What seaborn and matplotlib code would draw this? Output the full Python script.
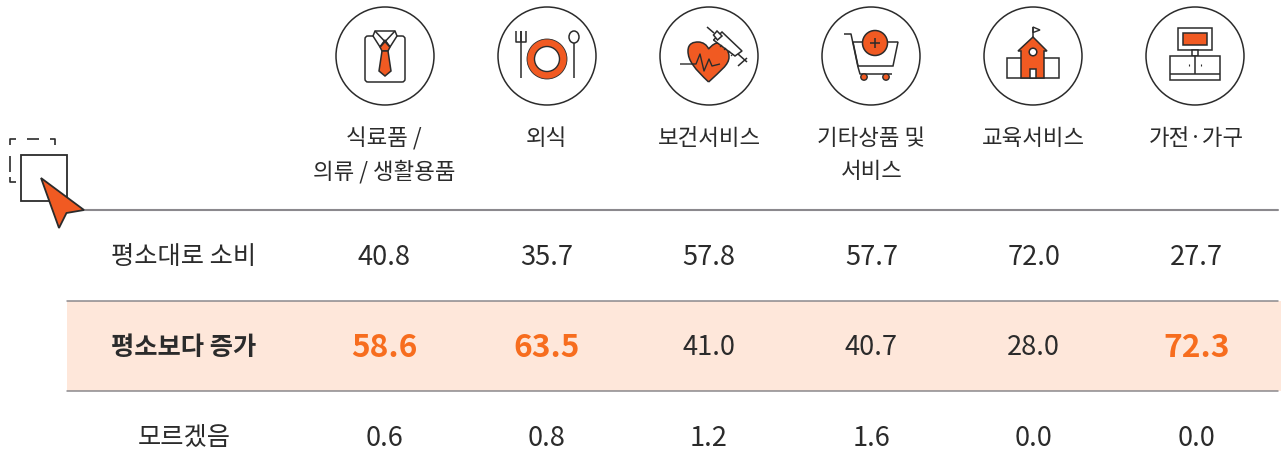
import numpy as np
import matplotlib
matplotlib.use("Agg")
import matplotlib.pyplot as plt
from matplotlib.colors import ListedColormap
from matplotlib.patches import Circle, Ellipse, Polygon, Rectangle, FancyBboxPatch, PathPatch
from matplotlib.path import Path
import seaborn as sns

categories = ["식료품 /\n의류 / 생활용품", "외식", "보건서비스", "기타상품 및\n서비스", "교육서비스", "가전·가구"]
row_labels = ["평소대로 소비", "평소보다 증가", "모르겠음"]
same_as_usual = [40.8, 35.7, 57.8, 57.7, 72.0, 27.7]
more_than_usual = [58.6, 63.5, 41.0, 40.7, 28.0, 72.3]
dont_know = [0.6, 0.8, 1.2, 1.6, 0.0, 0.0]

DARK = "#2b2b2b"
ORANGE = "#f15a22"
TEXT_ORANGE = "#f76d1e"
BAND = "#fee7da"
RULE = "#8b898d"
FONT = ["Noto Sans CJK KR", "DejaVu Sans"]

W, H = 1281, 452
sns.set_theme(style="white")
plt.rcParams["font.family"] = FONT

fig = plt.figure(figsize=(W / 100, H / 100), dpi=100, facecolor="white")

# table body: 6 columns, third row runs off the bottom of the picture
col_w, row_h = 162.4, 90.6
top, left = 211, 303
ax = fig.add_axes([left / W, 1 - (top + 3 * row_h) / H, 6 * col_w / W, 3 * row_h / H])
values = np.array([same_as_usual, more_than_usual, dont_know])
band = np.array([[0] * 6, [1] * 6, [0] * 6])
sns.heatmap(band, ax=ax, cmap=ListedColormap(["white", BAND]), cbar=False, annot=values, fmt=".1f",
            annot_kws={"fontsize": 19.6, "color": DARK, "fontweight": "light"},
            xticklabels=False, yticklabels=False)
for txt, val, row in zip(ax.texts, values.flatten(), np.repeat([0, 1, 2], 6)):
    txt.set_y(txt.get_position()[1] + 1 / row_h)  # 1px lower than cell centre
    # only the above-50 values in the highlighted row stand out
    if row == 1 and val > 50:
        txt.set_color(TEXT_ORANGE)
        txt.set_fontweight("bold")
        txt.set_fontsize(22.8)

# overlay in pixel coordinates for rules, labels and icons
ov = fig.add_axes([0, 0, 1, 1], facecolor="none")
ov.set_xlim(0, W)
ov.set_ylim(H, 0)
ov.axis("off")

ov.add_patch(Rectangle((67, top + row_h), left - 67, row_h, fc=BAND, ec="none"))
ov.add_patch(Rectangle((left + 6 * col_w, top + row_h), 10, row_h, fc=BAND, ec="none"))
ov.plot([67, 1278], [211, 211], color=RULE, lw=1.5)
ov.plot([67, 1278], [301.5, 301.5], color=RULE, lw=1.1)
ov.plot([67, 1278], [392, 392], color=RULE, lw=1.1)

label_y = [top + row_h * (i + 0.5) + 1 for i in range(3)]
for i, (lab, y) in enumerate(zip(row_labels, label_y)):
    ov.text(184, y, lab, ha="center", va="center", fontsize=18.2, color=DARK,
            fontweight="bold" if i == 1 else "light")

centers = [left + col_w * (i + 0.5) for i in range(6)]
for cat, x in zip(categories, centers):
    for j, part in enumerate(cat.split("\n")):
        ov.text(x, 139 + 33 * j, part, ha="center", va="center", fontsize=16.1, color=DARK, fontweight="light")


def poly(pts, fc="none", lw=1.1, closed=True, z=5):
    ov.add_patch(Polygon(pts, closed=closed, fc=fc, ec=DARK, lw=lw, joinstyle="miter", zorder=z))


def line(pts, lw=1.1, z=6):
    xs, ys = zip(*pts)
    ov.plot(xs, ys, color=DARK, lw=lw, zorder=z, solid_capstyle="butt")


for x in [385, 547, 709, 871, 1033, 1195]:
    ov.add_patch(Circle((x, 57), 49, fc="white", ec=DARK, lw=1.1, zorder=4))

# shirt and tie
ov.add_patch(FancyBboxPatch((365, 37), 40, 46, boxstyle="round,pad=0,rounding_size=3", fc="white", ec=DARK, lw=1.1, zorder=5))
poly([(375, 32), (395, 32), (397, 37), (390, 48), (385, 41), (380, 48), (373, 37)], fc="white")
line([(375, 32), (390, 48)])
line([(395, 32), (380, 48)])
poly([(385, 42), (390, 48), (388, 52), (382, 52), (380, 48)], fc=ORANGE)
poly([(382, 52), (388, 52), (391, 72), (385, 77), (379, 72)], fc=ORANGE)

# plate, fork, spoon
ov.add_patch(Ellipse((547, 60), 40, 40, fc=ORANGE, ec=DARK, lw=0.6, zorder=5))
ov.add_patch(Ellipse((547, 60), 25, 25, fc="white", ec=DARK, lw=1, zorder=6))
line([(521, 32), (521, 79)])
line([(516, 32), (516, 43), (526, 43), (526, 32)])
line([(521, 32), (521, 43)])
ov.add_patch(Ellipse((574, 38), 10, 12, fc="white", ec=DARK, lw=1.1, zorder=5))
line([(574, 44), (574, 79)])

# heart and syringe
heart = Path([(708.6, 83), (695, 70), (688, 62), (688, 52), (688, 44), (694, 43), (698, 43),
              (703, 43), (707, 46), (708.6, 50), (712, 46), (716, 43), (720, 44),
              (726, 46), (729, 52), (729, 58), (729, 66), (720, 72), (708.6, 83)],
             [Path.MOVETO] + [Path.CURVE4] * 18)
ov.add_patch(PathPatch(heart, fc=ORANGE, ec=DARK, lw=1.1, zorder=5))
line([(680, 65), (696, 65), (700, 55), (704, 72), (709, 60), (712, 67), (720, 65)], lw=1)
poly([(713.5, 41), (722, 33), (742, 52), (735, 57)], fc="white", z=7)
for t in [(720, 48), (724, 51), (728, 54), (731, 57)]:
    line([t, (t[0] + 2, t[1] - 2)], lw=0.8, z=8)
poly([(713.5, 36), (717, 32), (722, 37), (717.5, 41)], fc="white", z=7)
line([(714, 34), (707, 28)])
line([(738, 55), (747, 63)])
line([(738, 67), (747, 59)])

# cart
line([(844, 35), (851, 35), (858, 68), (860, 75), (892, 75)])
poly([(853, 43), (898, 43), (893, 67), (858, 67)])
ov.add_patch(Circle((875, 44), 12.5, fc=ORANGE, ec=DARK, lw=1.1, zorder=6))
line([(870, 44), (880, 44)], z=7)
line([(875, 39), (875, 49)], z=7)
for wx in [864, 886]:
    ov.add_patch(Circle((wx, 78), 3.2, fc=ORANGE, ec=DARK, lw=1, zorder=6))

# school
poly([(1006.5, 59), (1059, 59), (1059, 79), (1006.5, 79)], fc="white")
poly([(1033, 38), (1047, 52), (1044, 52), (1044, 79), (1021, 79), (1021, 52), (1018, 52)], fc=ORANGE, z=6)
ov.add_patch(Circle((1033, 53), 3.8, fc="white", ec=DARK, lw=1.1, zorder=7))
poly([(1030, 70), (1036, 70), (1036, 79), (1030, 79)], fc="white", z=7)
line([(1033, 38), (1033, 28)])
poly([(1033, 28), (1040, 31), (1033, 33.5)], fc="white", lw=1)

# tv and cabinet
poly([(1178, 29), (1212, 29), (1212, 51), (1178, 51)], fc="white")
poly([(1183, 34), (1207, 34), (1207, 46), (1183, 46)], fc=ORANGE)
poly([(1192, 51), (1198, 51), (1198, 57), (1192, 57)], fc="white")
poly([(1170, 57), (1220, 57), (1220, 81), (1170, 81)], fc="white")
line([(1170, 75), (1220, 75)])
line([(1195, 57), (1195, 75)])
line([(1189, 65), (1189, 67)], lw=0.8)
line([(1201, 65), (1201, 67)], lw=0.8)

# cursor mark on the left
for seg in [[(10, 146), (10, 140), (16, 140)], [(27, 140), (39, 140)], [(50, 140), (55, 140), (55, 146)],
            [(10, 157), (10, 173)], [(10, 178), (10, 183), (16, 183)]]:
    line(seg, lw=1.2)
poly([(21, 156), (67, 156), (67, 202), (21, 202)], fc="white", lw=1.3)
poly([(41, 179), (84, 211), (66.5, 214), (59, 229)], fc=ORANGE, lw=1.3, z=8)

fig.savefig("out.png", dpi=100, facecolor="white")
